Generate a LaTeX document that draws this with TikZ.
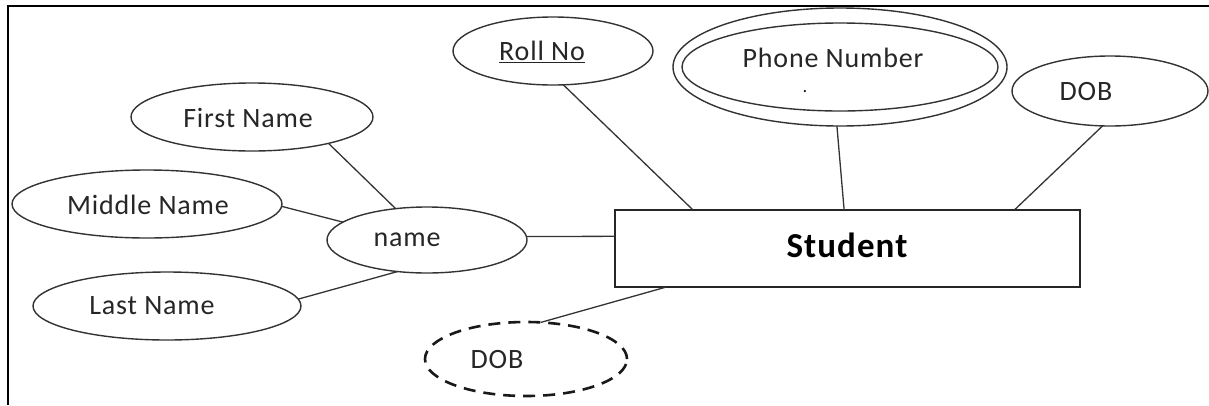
\documentclass[tikz,border=0pt]{standalone}
\usepackage{fontspec}
\setmainfont{Carlito}[LetterSpace=3]
\usetikzlibrary{shapes.geometric}
\tikzset{
  attr/.style={ellipse, draw=black!80, line width=1.4pt, inner sep=0pt, outer sep=0pt},
  txt/.style={inner sep=0pt, text=black!85, font=\fontsize{28}{30}\selectfont},
  link/.style={draw=black!80, line width=1.3pt},
  entity/.style={draw=black!85, line width=1.5pt, inner sep=0pt, outer sep=0pt},
}
\begin{document}
\begin{tikzpicture}[x=1pt, y=-1pt]
\useasboundingbox (0,0) rectangle (1209,405);
% page frame
\draw[line width=2.2pt] (8,405) coordinate (fl) -- (8,6) coordinate (fc) -- (1209,6) coordinate (fr);

% entity
\node[entity, minimum width=465pt, minimum height=77pt] (student) at (847.5,248.5) {};
\node[txt, font=\fontsize{35}{37}\selectfont\bfseries, text=black] (studentT) at (847,245) {Student};

% composite attribute and its parts
\node[attr, minimum width=200pt, minimum height=66pt] (name) at (427,240) {};
\node[txt] (nameT) at (407,240) {name};
\node[attr, minimum width=242pt, minimum height=68pt] (first) at (252,117) {};
\node[txt] (firstT) at (248,118) {First Name};
\node[attr, minimum width=270pt, minimum height=68pt] (middle) at (147,204) {};
\node[txt] (middleT) at (148,205) {Middle Name};
\node[attr, minimum width=268pt, minimum height=68pt] (last) at (167,306) {};
\node[txt] (lastT) at (152,306) {Last Name};

% key attribute
\node[attr, minimum width=200pt, minimum height=68pt] (roll) at (553,51) {};
\node[txt] (rollT) at (542,52) {\underline{Roll No}};

% multivalued attribute
\node[attr, minimum width=334pt, minimum height=118pt] (phone) at (840,67) {};
\node[attr, minimum width=316pt, minimum height=88pt] (phoneIn) at (840,67) {};
\node[txt] (phoneT) at (833,58) {Phone Number};
\node[txt, font=\fontsize{14}{16}\selectfont\bfseries, text=black, anchor=base] (phoneDot) at (805,92) {.};

% simple attribute
\node[attr, minimum width=196pt, minimum height=70pt] (dob) at (1110,91) {};
\node[txt] (dobT) at (1086,92) {DOB};

% derived attribute
\node[attr, dashed, dash pattern=on 12pt off 8pt, line width=2.6pt, draw=black!90,
      minimum width=202pt, minimum height=74pt] (dobD) at (526,359) {};
\node[txt] (dobDT) at (497,360) {DOB};

% connectors
\draw[link] (first.-19.7) -- (name.135);
\draw[link] (middle.-1.3) -- (name.168);
\draw[link] (last.3) -- (name.-133);
\draw[link] (name.2) -- (student.177.9);
\draw[link] (roll.-73.6) -- (student.166.5);
\draw[link] (phone.-93) -- (student.95.2);
\draw[link] (dob.-102.9) -- (student.13.9);
\draw[link] (student.-168.9) -- (dobD.68.7);
\end{tikzpicture}
\end{document}
